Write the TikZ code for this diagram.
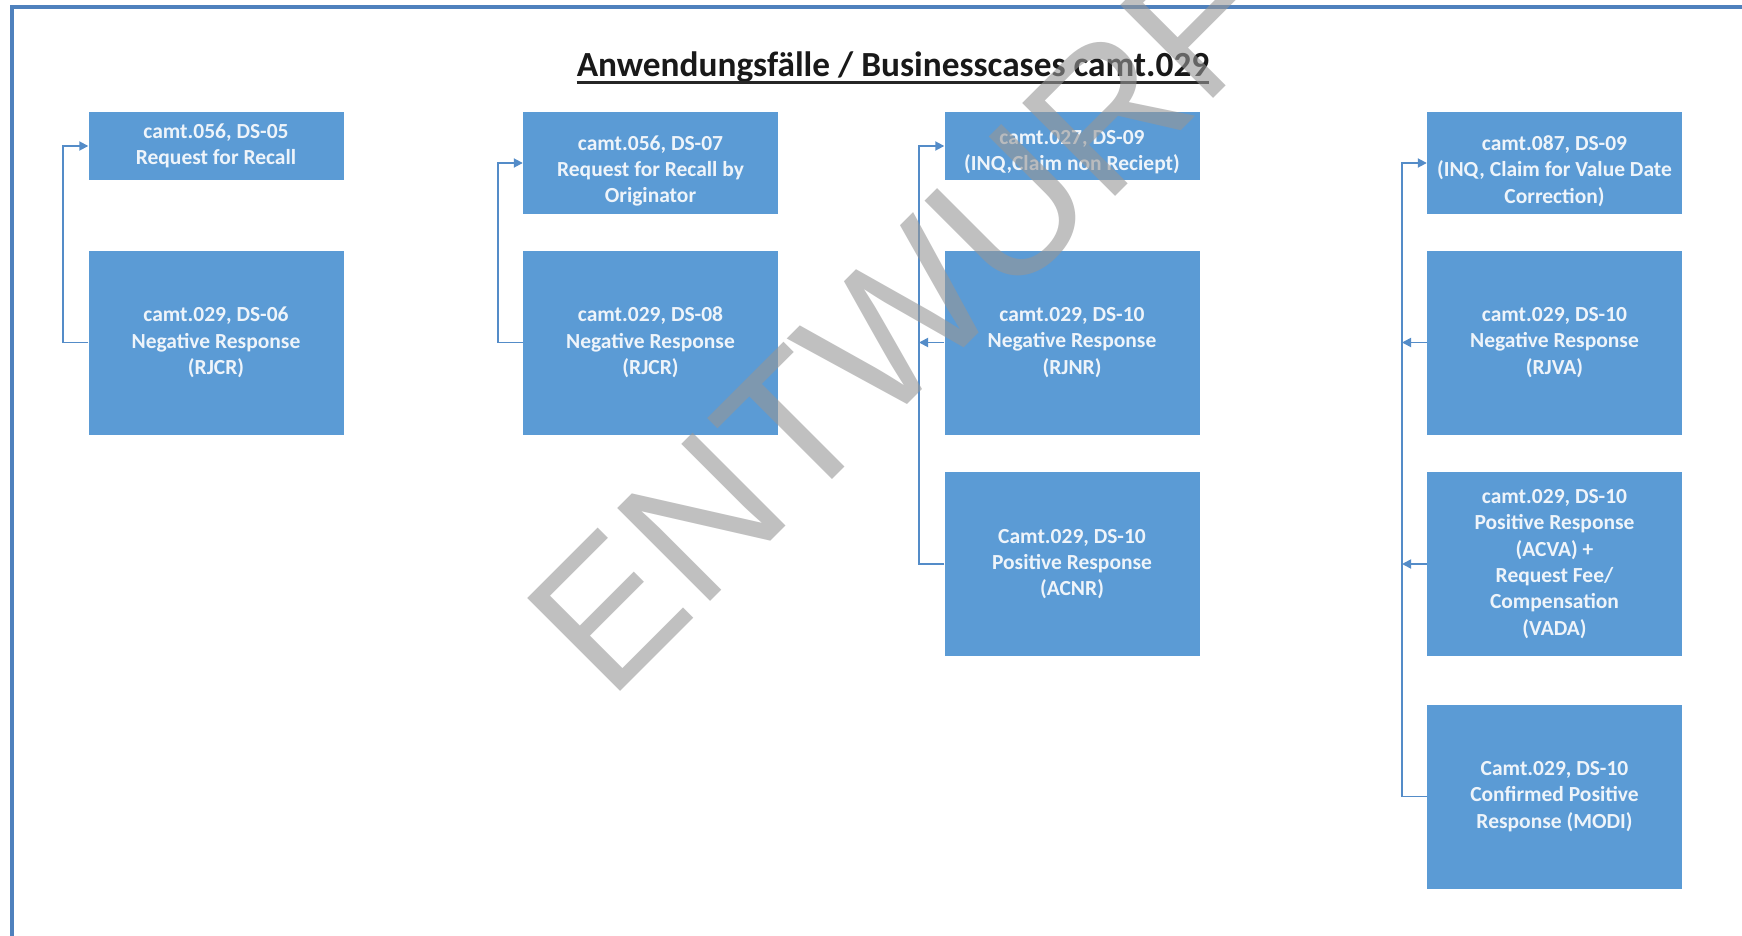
\documentclass[tikz,border=0pt]{standalone}
\usepackage{fontspec}
\setmainfont{Carlito}
\newfontfamily\wmfamily{Liberation Sans}
\usetikzlibrary{arrows.meta}
\definecolor{boxblue}{RGB}{91,155,213}
\definecolor{boxtextcol}{RGB}{238,244,250}
\definecolor{lineblue}{RGB}{84,140,200}
\definecolor{frameblue}{RGB}{79,129,189}
\definecolor{wmgray}{RGB}{150,150,150}
\tikzset{
  boxtext/.style={text=boxtextcol, font=\fontsize{21.5}{26.3}\selectfont\bfseries, align=center, inner sep=0pt},
  box/.style={rectangle, fill=boxblue, boxtext, minimum width=255pt},
  smallbox/.style={box, minimum height=68pt},
  midbox/.style={box, minimum height=102pt},
  bigbox/.style={box, minimum height=184pt},
  conn/.style={draw=lineblue, line width=1.8pt},
  arr/.style={-{Triangle[length=9pt,width=9pt]}},
  titlestyle/.style={anchor=base, inner sep=0pt, font=\fontsize{35.3}{40}\selectfont\bfseries, text=black!90},
  wmstyle/.style={anchor=base west, inner sep=0pt, rotate=45, text=wmgray, text opacity=0.6, font=\wmfamily\fontsize{191}{191}\selectfont}
}
\begin{document}
\begin{tikzpicture}[x=1pt,y=-1pt]
\useasboundingbox (0,0) rectangle (1742,936);
\fill[white] (0,0) rectangle (1742,936);
\begin{scope}
  \clip (0,0) rectangle (1742,936);
  \draw[frameblue, line width=4pt] (11.5,7.5) rectangle (1800,1000);
\end{scope}

% title
\node[titlestyle] (title) at (893,77) {Anwendungsfälle / Businesscases camt.029};
\draw[line width=2.5pt, black!85] ([yshift=-5.5pt]title.base west) -- ([yshift=-5.5pt]title.base east);

% boxes
\node[smallbox] (A1) at (216,146) {camt.056, DS-05\\Request for Recall};
\node[bigbox] (A2) at (216,342.5) {camt.029, DS-06\\Negative Response\\(RJCR)};
\node[midbox] (B1) at (650.5,163) {};
\node[boxtext] (B1t) at ([yshift=-8pt]B1.center) {camt.056, DS-07\\Request for Recall by\\Originator};
\node[bigbox] (B2) at (650.5,342.5) {camt.029, DS-08\\Negative Response\\(RJCR)};
\node[smallbox] (C1) at (1072,146) {};
\node[boxtext] (C1t) at ([yshift=-6pt]C1.center) {camt.027, DS-09\\(INQ,Claim non Reciept)};
\node[bigbox] (C2) at (1072,342.5) {camt.029, DS-10\\Negative Response\\(RJNR)};
\node[bigbox] (C3) at (1072,564) {Camt.029, DS-10\\Positive Response\\(ACNR)};
\node[midbox] (D1) at (1554.5,163) {};
\node[boxtext] (D1t) at ([yshift=-8pt]D1.center) {camt.087, DS-09\\(INQ, Claim for Value Date\\Correction)};
\node[bigbox] (D2) at (1554.5,342.5) {camt.029, DS-10\\Negative Response\\(RJVA)};
\node[bigbox] (D3) at (1554.5,564) {camt.029, DS-10\\Positive Response\\(ACVA) +\\Request Fee/\\Compensation\\(VADA)};
\node[bigbox] (D4) at (1554.5,796.5) {Camt.029, DS-10\\Confirmed Positive\\Response (MODI)};

% connector rails
\coordinate (lA) at (63,0);
\coordinate (lB) at (498,0);
\coordinate (lC) at (919,0);
\coordinate (lD) at (1402,0);

\draw[conn,arr] (A2.west) -- (A2.west -| lA) |- (A1.west);
\draw[conn,arr] (B2.west) -- (B2.west -| lB) |- (B1.west);
\draw[conn,arr] (C3.west) -- (C3.west -| lC) |- (C1.west);
\draw[conn,arr] (C2.west) -- (C2.west -| lC);
\draw[conn,arr] (D4.west) -- (D4.west -| lD) |- (D1.west);
\draw[conn,arr] (D2.west) -- (D2.west -| lD);
\draw[conn,arr] (D3.west) -- (D3.west -| lD);

% watermark
\node[wmstyle] (wm) at (609.4,702.6) {ENTWURF};
\end{tikzpicture}
\end{document}
